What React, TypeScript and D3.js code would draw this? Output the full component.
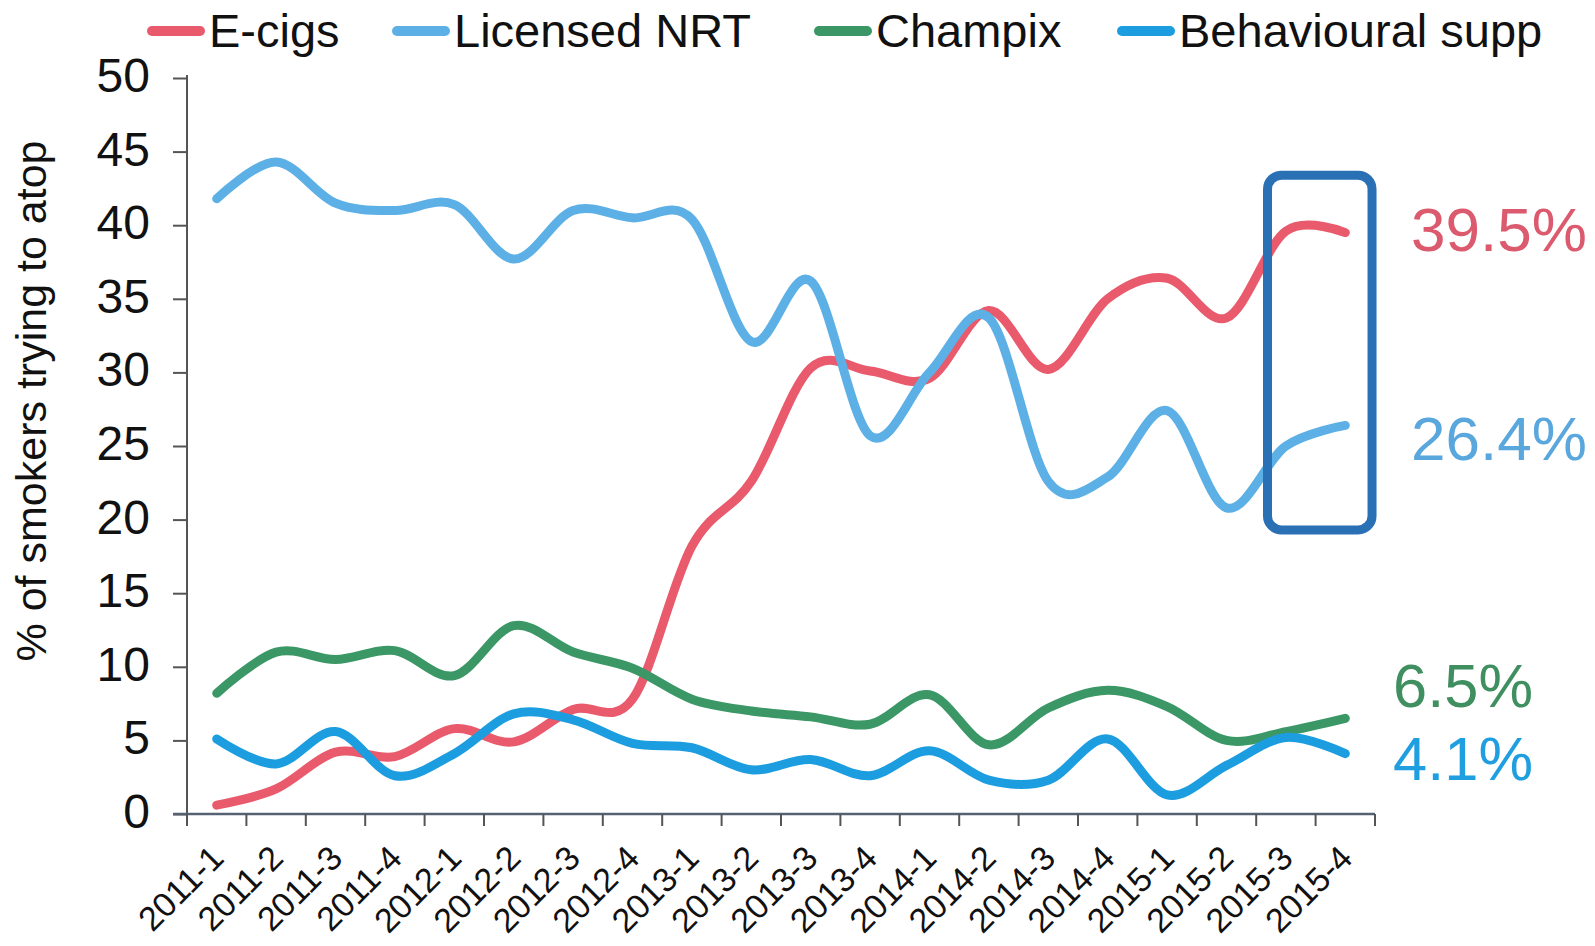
import React, { useRef, useEffect } from "react";
import * as d3 from "d3";

const quarters = [
  "2011-1", "2011-2", "2011-3", "2011-4",
  "2012-1", "2012-2", "2012-3", "2012-4",
  "2013-1", "2013-2", "2013-3", "2013-4",
  "2014-1", "2014-2", "2014-3", "2014-4",
  "2015-1", "2015-2", "2015-3", "2015-4",
];

const eCigs = [0.6, 1.7, 4.2, 3.9, 5.8, 4.9, 7.1, 7.8, 18.2, 22.6, 30.3, 30.1, 29.6, 34.2, 30.2, 35.0, 36.4, 33.7, 39.6, 39.5];
const licensedNrt = [41.8, 44.3, 41.5, 41.0, 41.4, 37.7, 41.0, 40.5, 40.4, 32.1, 36.2, 25.7, 30.0, 33.7, 22.6, 22.9, 27.4, 20.8, 25.0, 26.4];
const champix = [8.2, 11.0, 10.5, 11.1, 9.4, 12.8, 11.0, 9.9, 7.8, 7.0, 6.6, 6.1, 8.1, 4.7, 7.2, 8.4, 7.3, 5.0, 5.6, 6.5];
const behavioural = [5.1, 3.4, 5.6, 2.6, 4.1, 6.8, 6.4, 4.8, 4.5, 3.0, 3.7, 2.6, 4.3, 2.3, 2.3, 5.1, 1.3, 3.3, 5.2, 4.1];

const yTicks = [0, 5, 10, 15, 20, 25, 30, 35, 40, 45, 50];

const seriesNames = ["E-cigs", "Licensed NRT", "Champix", "Behavioural supp"];
const seriesColors = ["#e85a6c", "#5cb0e6", "#3b9866", "#1c9de0"];
const endLabels = ["39.5%", "26.4%", "6.5%", "4.1%"];
const endLabelColors = ["#dc5a6e", "#5aa7dd", "#3f8f60", "#1f9fe0"];

const App = () => {
  const ref = useRef<SVGSVGElement | null>(null);

  useEffect(() => {
    if (!ref.current) return;
    const svg = d3.select(ref.current);
    svg.selectAll("*").remove();

    const left = 187, right = 1375, top = 78, bottom = 814;
    const font = "'Liberation Sans', Arial, sans-serif";

    const x = d3.scaleBand().domain(quarters).range([left, right]);
    const y = d3.scaleLinear().domain([0, 50]).range([bottom, top]);
    const cx = (q: string) => (x(q) as number) + x.bandwidth() / 2;

    // y axis
    const yAxis = svg.append("g")
      .attr("transform", `translate(${left},0)`)
      .call(d3.axisLeft(y).tickValues(yTicks).tickSize(14).tickPadding(23));
    yAxis.select(".domain").attr("stroke", "#555").attr("stroke-width", 2).attr("d", `M0,${top - 3}V${bottom}`);
    yAxis.selectAll(".tick line").attr("stroke", "#555").attr("stroke-width", 2);
    yAxis.selectAll(".tick text")
      .attr("font-family", font).attr("font-size", 48).attr("fill", "#111").attr("dy", "0.28em");

    // x axis
    const xAxis = svg.append("g")
      .attr("transform", `translate(0,${bottom})`)
      .call(d3.axisBottom(x).tickSize(0).tickFormat(() => ""));
    xAxis.select(".domain").attr("stroke", "#566273").attr("stroke-width", 2.5).attr("d", `M${left - 14},0H${right}`);
    xAxis.selectAll(".tick").remove();

    const bounds = [...quarters.map((q) => x(q) as number), right];
    svg.append("g").selectAll("line").data(bounds).join("line")
      .attr("x1", (d) => d).attr("x2", (d) => d)
      .attr("y1", bottom).attr("y2", bottom + 12)
      .attr("stroke", "#555").attr("stroke-width", 2);

    svg.append("g").selectAll("text").data(quarters).join("text")
      .attr("transform", (d) => `translate(${cx(d) + 9},${bottom + 46}) rotate(-45)`)
      .attr("text-anchor", "end")
      .attr("font-family", font).attr("font-size", 34).attr("fill", "#111")
      .text((d) => d);

    // y title
    svg.append("text")
      .attr("transform", `translate(46,401) rotate(-90)`)
      .attr("text-anchor", "middle")
      .attr("font-family", font).attr("font-size", 43).attr("fill", "#111")
      .text("% of smokers trying to atop");

    // lines
    const series = [eCigs, licensedNrt, champix, behavioural];
    const line = d3.line<number>()
      .x((_, i) => cx(quarters[i]))
      .y((d) => y(d))
      .curve(d3.curveCatmullRom.alpha(0));
    const order = [0, 1, 2, 3];
    svg.append("g").selectAll("path").data(order).join("path")
      .attr("d", (i) => line(series[i]))
      .attr("fill", "none")
      .attr("stroke", (i) => seriesColors[i])
      .attr("stroke-width", 9)
      .attr("stroke-linecap", "round")
      .attr("stroke-linejoin", "round");

    // highlight box
    const bx0 = cx("2015-3") - x.bandwidth() * 0.31;
    const bx1 = cx("2015-4") + x.bandwidth() * 0.45;
    svg.append("rect")
      .attr("x", bx0).attr("y", y(43.4))
      .attr("width", bx1 - bx0).attr("height", y(19.3) - y(43.4))
      .attr("rx", 14).attr("ry", 14)
      .attr("fill", "none").attr("stroke", "#2a70b5").attr("stroke-width", 9);

    // end labels
    const labelPos = [
      { x: 1411, y: 251 },
      { x: 1411, y: 460 },
      { x: 1393, y: 707 },
      { x: 1393, y: 780 },
    ];
    svg.append("g").selectAll("text").data(order).join("text")
      .attr("x", (i) => labelPos[i].x).attr("y", (i) => labelPos[i].y)
      .attr("font-family", font).attr("font-size", 61)
      .attr("textLength", (i) => (endLabels[i].length === 5 ? 176 : 140))
      .attr("lengthAdjust", "spacingAndGlyphs")
      .attr("fill", (i) => endLabelColors[i])
      .text((i) => endLabels[i]);

    // legend
    const legendX = [147, 392, 814, 1117];
    const lg = svg.append("g").selectAll("g").data(order).join("g")
      .attr("transform", (i) => `translate(${legendX[i]},31)`);
    lg.append("line")
      .attr("x1", 5).attr("x2", 53).attr("y1", 0).attr("y2", 0)
      .attr("stroke", (i) => seriesColors[i]).attr("stroke-width", 10)
      .attr("stroke-linecap", "round");
    lg.append("text")
      .attr("x", 62).attr("y", 16)
      .attr("font-family", font).attr("font-size", 47).attr("fill", "#111")
      .text((i) => seriesNames[i]);
  }, []);

  return (
    <svg
      ref={ref}
      width={1595}
      height={946}
      style={{ position: "absolute", left: 0, top: 0, background: "#fff" }}
    />
  );
};

export default App;
